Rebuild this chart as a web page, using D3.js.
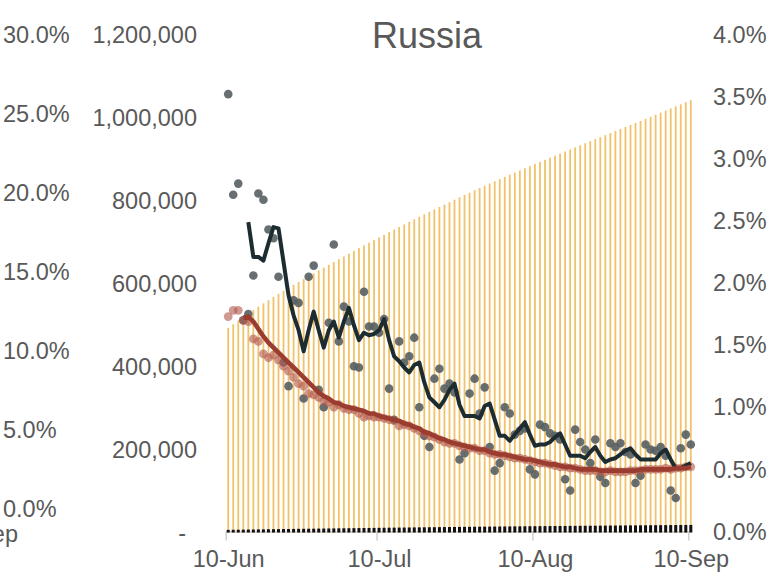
<!DOCTYPE html>
<html><head><meta charset="utf-8">
<script src="https://cdn.jsdelivr.net/npm/d3@7"></script>
<style>html,body{margin:0;padding:0;background:#fff;overflow:hidden}</style>
</head><body>
<svg id="chart" width="767" height="572"></svg>
<script>
const title = "Russia";
const startDay = new Date(2020, 5, 10);
const endDay = new Date(2020, 8, 10);
const xTickDates = [new Date(2020,5,10), new Date(2020,6,10), new Date(2020,7,10), new Date(2020,8,10)];
const leftTicks = [0, 5, 10, 15, 20, 25, 30];
const midTicks = [0, 200000, 400000, 600000, 800000, 1000000, 1200000];
const rightTicks = [0, 0.5, 1.0, 1.5, 2.0, 2.5, 3.0, 3.5, 4.0];

// cumulative confirmed cases (middle axis)
const cumCases = [
 493700,502400,511100,519700,528200,536500,544700,552600,560300,568000,
 575600,582900,590100,597200,604100,611000,618000,625000,632000,638900,
 645700,652400,659200,666000,672700,679300,685900,692400,698900,705300,
 711700,718000,724300,730600,736800,743000,749200,755300,761400,767400,
 773400,779300,785200,791100,796900,802700,808500,814200,819800,825400,
 830900,836400,841800,847200,852500,857800,863000,868200,873400,878500,
 883600,888700,893800,898900,903900,908900,913900,918900,923900,928900,
 933900,938900,943800,948700,953600,958500,963400,968300,973200,978100,
 983000,987900,992800,997700,1002700,1007700,1012700,1017700,1022700,1027700,
 1032700,1037700,1042700];
// cumulative deaths (middle axis)
const cumDeaths = [
 6358,6532,6705,6886,7081,7274,7468,7650,7843,8002,
 8170,8330,8480,8630,8780,8930,9080,9230,9380,9530,
 9680,9840,10000,10160,10320,10480,10640,10800,10960,11120,
 11280,11420,11560,11700,11840,11980,12120,12260,12400,12540,
 12680,12820,12950,13080,13210,13340,13470,13600,13720,13840,
 13960,14080,14200,14320,14430,14540,14650,14760,14870,14980,
 15090,15200,15300,15400,15500,15600,15700,15800,15900,16000,
 16100,16200,16300,16400,16500,16600,16700,16800,16900,17000,
 17100,17200,17300,17400,17500,17600,17700,17800,17900,18000,
 18100,18200,18300];
// daily growth of deaths, % (right axis) - grey dots
const deathGrowth = [
 3.52,2.71,2.80,1.70,1.75,2.06,2.72,2.67,2.43,2.36,
 2.05,1.36,1.17,1.86,1.84,1.07,2.05,2.14,1.14,1.00,
 1.68,2.31,1.53,1.81,1.69,1.33,1.32,1.93,1.65,1.65,
 1.60,1.71,1.15,0.90,1.53,1.36,1.41,1.56,1.00,0.77,
 0.68,1.23,1.31,1.15,1.19,1.12,0.58,0.63,1.11,1.23,
 0.95,1.16,0.68,0.49,0.55,1.00,0.95,0.78,0.81,0.83,
 0.50,0.46,0.86,0.84,0.79,0.77,0.74,0.42,0.33,0.82,
 0.72,0.66,0.55,0.74,0.44,0.39,0.71,0.68,0.71,0.64,
 0.62,0.39,0.45,0.70,0.66,0.65,0.68,0.61,0.33,0.27,
 0.67,0.78,0.70];
// average of deaths growth, % (right axis) - dark line
const deathGrowthAvg = [
 null,null,null,null,2.49,2.21,2.21,2.18,2.32,2.45,
 2.44,2.17,1.90,1.74,1.62,1.45,1.62,1.77,1.62,1.48,
 1.62,1.69,1.56,1.69,1.80,1.66,1.54,1.60,1.58,1.59,
 1.62,1.71,1.54,1.41,1.37,1.32,1.28,1.34,1.36,1.20,
 1.08,1.04,1.00,1.06,1.14,1.19,1.02,0.93,0.93,0.93,
 0.91,1.01,1.03,0.90,0.77,0.77,0.73,0.78,0.83,0.88,
 0.78,0.69,0.70,0.70,0.72,0.76,0.79,0.70,0.61,0.61,
 0.61,0.59,0.64,0.68,0.61,0.56,0.58,0.59,0.62,0.65,
 0.67,0.62,0.58,0.58,0.58,0.58,0.63,0.66,0.58,0.51,
 0.51,0.53,0.55];
// daily growth of cases, % (right axis) - red dots
const caseGrowth = [
 1.73,1.78,1.78,1.70,1.69,1.55,1.53,1.43,1.40,1.42,
 1.38,1.33,1.29,1.24,1.19,1.17,1.11,1.10,1.08,1.05,
 1.04,1.00,1.02,0.99,0.98,0.98,0.95,0.92,0.93,0.92,
 0.92,0.91,0.90,0.89,0.85,0.86,0.85,0.83,0.81,0.79,
 0.77,0.76,0.74,0.72,0.71,0.71,0.69,0.68,0.67,0.67,
 0.65,0.65,0.63,0.62,0.62,0.61,0.60,0.59,0.59,0.58,
 0.57,0.56,0.55,0.55,0.54,0.53,0.52,0.52,0.51,0.51,
 0.50,0.49,0.49,0.49,0.48,0.48,0.49,0.48,0.48,0.48,
 0.49,0.49,0.49,0.50,0.50,0.50,0.50,0.51,0.50,0.51,
 0.51,0.52,0.52];
// average of cases growth, % (right axis) - red line
const caseGrowthAvg = [
 null,null,null,1.72,1.73,1.69,1.63,1.57,1.52,1.48,
 1.44,1.40,1.36,1.32,1.28,1.24,1.20,1.16,1.12,1.09,
 1.07,1.04,1.03,1.01,1.00,0.99,0.98,0.97,0.95,0.95,
 0.93,0.92,0.91,0.90,0.89,0.87,0.86,0.84,0.83,0.80,
 0.79,0.77,0.75,0.74,0.72,0.71,0.70,0.69,0.68,0.67,
 0.66,0.66,0.64,0.63,0.62,0.62,0.61,0.60,0.59,0.58,
 0.58,0.57,0.56,0.55,0.54,0.54,0.53,0.52,0.52,0.51,
 0.50,0.50,0.50,0.50,0.49,0.49,0.49,0.49,0.49,0.49,
 0.49,0.49,0.50,0.50,0.50,0.50,0.50,0.50,0.50,0.51,
 0.51,0.51,0.52];

const dates = d3.timeDay.range(startDay, d3.timeDay.offset(endDay, 1));
const svg = d3.select("#chart");
const FONT = "'Liberation Sans', Arial, sans-serif";
const TXT = "#595959";

const x = d3.scaleTime().domain([startDay, endDay]).range([225.7, 688.3]);
const xc = i => x(d3.timeHour.offset(dates[i], 12));
const yMid = d3.scaleLinear().domain([0, 1200000]).range([532.5, 35]);
const yRight = d3.scaleLinear().domain([0, 4]).range([531.5, 34.5]);
const yLeft = d3.scaleLinear().domain([0, 30]).range([508.5, 35]);

// x axis
const xAxis = svg.append("g").attr("transform", "translate(0,531.5)")
  .call(d3.axisBottom(x).tickValues(xTickDates).tickSize(9).tickSizeOuter(0)
    .tickFormat(d3.timeFormat("%-d-%b")));
xAxis.select(".domain").attr("stroke", "#c8c8c8").attr("stroke-width", 1.3);
xAxis.selectAll(".tick line").attr("stroke", "#c8c8c8").attr("stroke-width", 1.3);
xAxis.selectAll(".tick text").attr("y", 18.5).attr("x", 2.5)
  .attr("font-family", FONT).attr("font-size", 23.5).attr("fill", TXT);

// bars
const idx = d3.range(dates.length);
svg.append("g").selectAll("rect").data(idx).join("rect")
  .attr("x", i => xc(i) - 0.9).attr("width", 1.8)
  .attr("y", i => yMid(cumCases[i])).attr("height", i => yMid(0) - yMid(cumCases[i]))
  .attr("fill", "#f1c26a");
svg.append("g").selectAll("rect").data(idx).join("rect")
  .attr("x", i => xc(i) - 1.5).attr("width", 3)
  .attr("y", i => yMid(cumDeaths[i])).attr("height", i => yMid(0) - yMid(cumDeaths[i]))
  .attr("fill", "#141010");

// grey dots
svg.append("g").selectAll("circle").data(idx).join("circle")
  .attr("cx", i => xc(i)).attr("cy", i => yRight(deathGrowth[i])).attr("r", 4.3)
  .attr("fill", "#575f63").attr("fill-opacity", 0.9);
// red dots
svg.append("g").selectAll("circle").data(idx).join("circle")
  .attr("cx", i => xc(i)).attr("cy", i => yRight(caseGrowth[i])).attr("r", 4.4)
  .attr("fill", "#b35a4f").attr("fill-opacity", 0.62);

const line = arr => d3.line().defined(i => arr[i] !== null)
  .x(i => xc(i)).y(i => yRight(arr[i]))(idx);
svg.append("path").attr("d", line(deathGrowthAvg)).attr("fill", "none")
  .attr("stroke", "#1d2c30").attr("stroke-width", 4).attr("stroke-linejoin", "round");
svg.append("path").attr("d", line(caseGrowthAvg)).attr("fill", "none")
  .attr("stroke", "#9a3c30").attr("stroke-width", 4.6).attr("stroke-linejoin", "round");

// axis labels
const lab = svg.append("g").attr("font-family", FONT).attr("font-size", 23.5).attr("fill", TXT);
lab.selectAll(".l").data(leftTicks).join("text").attr("class", "l")
  .attr("x", 3).attr("y", d => yLeft(d)).attr("dy", "0.35em")
  .text(d => d3.format(".1f")(d) + "%");
lab.selectAll(".m").data(midTicks).join("text").attr("class", "m")
  .attr("x", d => d === 0 ? 186 : 197).attr("y", d => yMid(d)).attr("dy", "0.35em")
  .attr("text-anchor", "end")
  .text(d => d === 0 ? "-" : d3.format(",")(d));
lab.selectAll(".r").data(rightTicks).join("text").attr("class", "r")
  .attr("x", 713).attr("y", d => yRight(d)).attr("dy", "0.35em")
  .text(d => d3.format(".1f")(d) + "%");
// clipped secondary date label at far left
lab.append("text").attr("x", 18).attr("y", 542).attr("text-anchor", "end")
  .text(d3.timeFormat("%-d-%b")(endDay));

svg.append("text").attr("x", 427).attr("y", 48).attr("text-anchor", "middle")
  .attr("font-family", FONT).attr("font-size", 36).attr("fill", TXT).text(title);
</script>
</body></html>
